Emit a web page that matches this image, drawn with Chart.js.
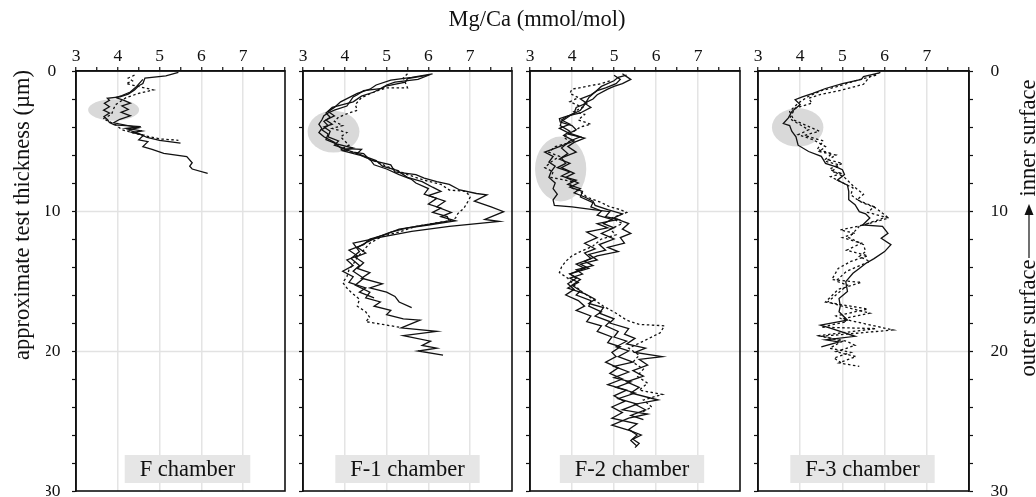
<!DOCTYPE html>
<html>
<head>
<meta charset="utf-8">
<script src="https://cdn.jsdelivr.net/npm/chart.js@4.4.1/dist/chart.umd.min.js"></script>
<style>
html, body { margin: 0; padding: 0; background: #fff; }
#wrap { position: relative; width: 1036px; height: 497px; overflow: hidden; }
#wrap canvas { position: absolute; left: 0; top: 0; }
</style>
</head>
<body>
<div id="wrap">
  <canvas id="c0" width="1036" height="497"></canvas>
  <canvas id="c1" width="1036" height="497"></canvas>
  <canvas id="c2" width="1036" height="497"></canvas>
  <canvas id="c3" width="1036" height="497"></canvas>
</div>
<script>
// --- data: [Mg/Ca, depth] pairs ---
const mgTicks = [3, 4, 5, 6, 7];
const depthLabels = [0, 10, 20, 30];
const chamberNames = ['F chamber', 'F-1 chamber', 'F-2 chamber', 'F-3 chamber'];

// grey low-Mg bands: [Mg/Ca centre, depth centre, Mg/Ca radius, depth radius]
const F_band = [3.9, 2.78, 0.61, 0.77];
const F1_band = [3.73, 4.33, 0.62, 1.49];
const F2_band = [3.73, 7.0, 0.61, 2.32];
const F3_band = [3.94, 4.03, 0.61, 1.37];

const F_solid1 = [[5.45,0.1],[5.15,0.35],[4.65,0.5],[4.6,0.9],[4.5,1.05],[4.4,1.35],[4.25,1.65],[4.05,1.85],[3.75,1.95],[3.8,2.1],[3.68,2.3],[3.8,2.55],[3.66,2.8],[3.8,3.0],[3.67,3.25],[3.76,3.5],[3.8,3.68],[3.92,3.85],[4.55,3.98],[4.2,4.1],[4.58,4.28],[4.35,4.4],[4.62,4.58],[4.5,4.92],[4.72,5.05],[4.6,5.4],[4.82,5.6],[5.1,5.88],[5.65,6.12],[5.78,6.55],[5.72,6.8],[5.78,7.0],[6.15,7.32]];
const F_solid2 = [[4.6,0.6],[4.45,1.1],[4.3,1.5],[4.1,1.75],[3.95,1.9],[4.15,2.1],[4.3,2.3],[4.1,2.5],[4.25,2.75],[4.08,2.95],[4.3,3.2],[4.05,3.45],[3.9,3.7],[4.5,4.05],[4.25,4.2],[4.45,4.4],[4.7,4.75],[5.0,4.95],[5.5,5.15]];
const F_dot1 = [[4.4,0.3],[4.25,0.5],[4.35,0.7],[4.2,0.9],[4.85,1.35],[4.5,1.6],[4.2,1.9],[3.95,2.4],[3.9,2.7],[3.85,3.1],[3.65,3.4],[3.95,3.85],[4.1,4.2],[4.6,4.6],[5.0,4.85],[5.45,4.95]];

const F1_solid1 = [[6.05,0.25],[5.75,0.6],[5.2,0.8],[5.0,1.0],[4.9,1.25],[4.45,1.4],[4.3,1.7],[4.2,1.85],[4.05,2.5],[3.75,2.8],[3.6,3.0],[3.5,3.2],[3.45,3.5],[3.38,3.8],[3.45,4.1],[3.38,4.4],[3.5,4.7],[3.75,5.1],[3.9,5.5],[4.2,5.8],[4.45,5.9],[4.6,6.35],[5.1,6.7],[5.2,7.2],[5.7,7.4],[5.9,7.65],[6.2,7.9],[6.5,8.1],[6.75,8.5],[7.15,8.75],[7.4,8.85],[7.1,9.3],[7.5,9.7],[7.8,10.05],[7.35,10.6],[7.7,10.75],[6.5,11.1],[5.6,11.45],[4.9,11.85],[4.2,12.3],[4.35,12.9],[4.15,13.4],[4.35,13.9],[4.2,14.3],[4.45,14.8],[4.25,15.3],[4.6,15.8],[4.5,16.2],[4.85,16.5],[4.7,16.8],[5.1,17.1],[5.0,17.4],[5.4,17.7],[5.8,17.8],[5.35,18.35],[6.2,18.6],[5.4,18.9],[6.05,19.3],[5.85,19.6],[6.2,19.8],[5.75,20.0],[6.35,20.3]];
const F1_solid2 = [[6.0,0.3],[5.5,0.55],[5.45,0.8],[4.95,1.1],[4.7,1.5],[4.4,1.8],[4.2,2.2],[3.95,2.4],[3.7,2.6],[3.55,3.0],[3.65,3.3],[3.5,3.6],[3.6,3.9],[3.45,4.2],[3.6,4.5],[3.55,4.9],[3.8,5.2],[4.2,5.5],[3.95,5.7],[4.35,6.0],[4.6,6.3],[4.7,6.7],[5.0,7.0],[5.3,7.4],[5.6,7.75],[5.7,8.0],[6.0,8.4],[5.9,8.8],[6.2,9.1],[6.0,9.5],[6.3,9.8],[6.1,10.1],[6.45,10.4],[6.5,10.7],[6.1,10.9],[5.5,11.2],[5.1,11.5],[4.75,11.9],[4.55,12.2],[4.3,12.6],[4.5,13.0],[4.25,13.3],[4.45,13.7],[4.3,14.1],[4.6,14.4],[4.4,14.8],[4.9,15.2],[4.6,15.5],[5.0,15.8],[5.2,16.1],[5.3,16.5],[5.6,16.9]];
const F1_solid3 = [[6.1,0.2],[5.6,0.45],[5.1,0.65],[4.75,1.0],[4.6,1.3],[4.3,1.6],[3.9,2.2],[3.75,2.6],[3.6,2.9],[3.75,3.2],[3.55,3.5],[3.7,3.8],[3.5,4.0],[3.65,4.3],[3.6,4.7],[3.85,5.0],[3.75,5.3],[4.0,5.55],[4.4,5.6],[4.3,5.9],[4.75,6.4],[4.9,6.8],[5.25,7.1],[5.5,7.6],[5.85,7.9],[6.1,8.3],[6.3,8.6],[6.0,8.9],[6.4,9.3],[6.2,9.7],[6.55,10.1],[6.3,10.4],[6.65,10.7],[6.0,11.0],[5.3,11.3],[4.95,11.7],[4.6,12.0],[4.45,12.4],[4.1,12.8],[4.3,13.2],[4.05,13.5],[4.2,13.9],[3.95,14.3],[4.2,14.7],[4.1,15.1],[4.5,15.5],[4.35,15.8],[4.7,16.2]];
const F1_dot1 = [[5.5,0.2],[5.4,0.5],[5.5,1.2],[5.0,1.2],[4.7,1.5],[4.4,1.9],[4.25,2.4],[4.3,2.8],[4.1,3.0],[3.85,3.3],[3.75,3.6],[3.95,3.9],[3.7,4.1],[4.05,4.4],[3.9,4.7],[4.0,5.0],[4.1,5.3],[3.9,5.6],[4.3,5.9],[4.6,6.3],[5.0,6.8],[5.5,7.4],[5.9,7.8],[6.3,8.1],[6.5,8.5],[6.9,8.6],[7.0,9.0],[6.95,9.3],[6.85,9.8],[6.7,10.2],[6.65,10.5],[6.5,10.7],[5.7,11.1],[5.3,11.5],[4.9,11.8],[4.6,12.3],[4.45,12.8],[4.3,13.3],[4.2,13.8],[4.1,14.2],[4.05,14.7],[3.95,15.1],[4.05,15.5],[4.15,15.8],[4.35,16.3],[4.3,16.8],[4.5,17.2],[4.6,17.6],[4.5,17.9],[4.9,18.1],[5.3,18.3]];

const F2_solid1 = [[5.3,0.3],[5.1,0.45],[5.0,0.7],[4.7,1.1],[4.55,1.5],[4.4,1.9],[4.3,2.4],[4.2,2.8],[3.95,3.2],[3.75,3.6],[3.72,3.9],[3.95,4.3],[3.8,4.6],[4.05,5.0],[3.7,5.4],[3.35,5.8],[3.55,6.1],[3.45,6.5],[3.6,6.8],[3.5,7.2],[3.45,7.6],[3.6,8.0],[3.55,8.4],[3.65,8.8],[3.55,9.2],[3.58,9.6],[4.0,9.7],[4.5,9.9],[4.9,10.05],[4.8,10.4],[5.1,10.6],[4.6,10.9],[4.85,11.2],[4.35,11.5],[4.6,11.9],[4.3,12.3],[4.55,12.7],[4.3,13.0],[4.45,13.4],[4.1,13.8],[4.3,14.1],[3.95,14.5],[4.1,14.8],[3.9,15.2],[4.05,15.6],[3.85,16.0],[4.15,16.4],[4.3,16.8],[4.1,17.1],[4.45,17.5],[4.35,17.9],[4.7,18.2],[4.6,18.6],[4.95,19.0],[4.85,19.4],[5.15,19.7],[4.95,20.1],[5.05,20.4],[4.8,20.8],[5.1,21.2],[4.9,21.6],[5.2,22.0],[4.85,22.4],[5.3,22.8],[5.0,23.2],[5.25,23.6],[4.95,24.0],[5.2,24.4],[4.95,24.8],[5.55,25.2],[5.35,25.6],[5.55,26.0],[5.4,26.4],[5.55,26.8]];
const F2_solid2 = [[5.2,0.2],[5.3,0.4],[5.4,0.6],[5.2,0.9],[5.0,1.1],[4.85,1.3],[4.6,1.7],[4.5,2.0],[4.3,2.3],[4.45,2.6],[4.2,3.0],[3.9,3.2],[3.7,3.4],[3.72,3.65],[4.0,3.9],[4.1,4.2],[3.9,4.5],[4.3,4.8],[4.05,5.1],[3.9,5.4],[4.1,5.8],[3.75,6.2],[3.85,6.6],[3.65,6.9],[3.95,7.2],[3.75,7.5],[4.1,7.8],[3.9,8.1],[4.2,8.4],[4.05,8.7],[4.3,9.0],[4.5,9.3],[4.55,9.6],[4.85,9.9],[5.2,10.2],[5.0,10.5],[5.35,10.9],[5.2,11.3],[5.4,11.6],[5.15,11.9],[5.25,12.3],[4.85,12.6],[5.1,12.9],[4.6,13.2],[4.3,13.6],[4.5,13.9],[4.1,14.2],[4.25,14.5],[3.95,14.8],[4.15,15.1],[3.9,15.5],[4.3,15.9],[4.55,16.3],[4.4,16.6],[4.75,16.9],[4.65,17.3],[5.0,17.7],[4.9,18.0],[5.35,18.4],[5.25,18.8],[5.5,19.1],[5.3,19.5],[5.75,19.8],[5.5,20.1],[6.15,20.4],[5.6,20.6],[5.8,21.0],[5.45,21.4],[5.7,21.8],[5.3,22.2],[5.6,22.6],[5.4,23.0],[6.05,23.5],[5.5,23.8],[5.75,24.2],[5.4,24.6],[5.7,24.9]];
const F2_solid3 = [[5.0,0.3],[5.15,0.6],[5.05,0.9],[4.8,1.2],[4.6,1.4],[4.45,1.7],[4.2,2.0],[4.35,2.3],[4.1,2.6],[4.05,3.0],[3.85,3.3],[3.75,3.5],[3.95,3.8],[3.7,4.1],[3.9,4.4],[4.2,4.7],[3.95,5.0],[3.75,5.5],[3.9,5.9],[3.7,6.3],[3.95,6.6],[3.75,6.9],[4.05,7.3],[3.85,7.6],[4.15,8.0],[3.95,8.3],[4.25,8.6],[4.2,9.0],[4.5,9.4],[4.45,9.7],[4.7,10.0],[4.6,10.3],[4.95,10.6],[4.75,10.9],[5.0,11.2],[4.7,11.6],[5.0,12.0],[4.65,12.4],[4.8,12.8],[4.4,13.1],[4.6,13.5],[4.2,13.8],[4.4,14.1],[3.95,14.5],[4.2,14.9],[4.0,15.3],[4.2,15.7],[4.1,16.0],[4.45,16.4],[4.4,16.8],[4.7,17.2],[4.55,17.5],[4.9,17.9],[4.8,18.2],[5.1,18.6],[5.0,19.0],[5.3,19.3],[5.05,19.7],[5.35,20.0],[5.1,20.4],[5.45,20.8],[5.0,21.1],[5.35,21.5],[5.0,21.9],[5.4,22.2],[5.05,22.6],[5.5,23.0],[5.1,23.4],[5.55,23.8],[5.2,24.2],[5.8,24.5],[5.35,24.8],[4.95,25.3],[5.4,25.7],[5.65,26.0],[5.45,26.3],[5.6,26.6],[5.5,26.9]];
const F2_dot1 = [[4.9,0.7],[4.7,0.9],[4.35,1.1],[4.0,1.3],[3.95,1.6],[4.15,1.9],[3.95,2.2],[4.25,2.6],[4.05,2.9],[4.3,3.1],[4.15,3.5],[4.45,3.8],[4.2,4.0],[4.0,4.4],[3.8,4.7],[3.95,5.1],[3.6,5.4],[3.45,5.8],[3.7,6.1],[3.5,6.5],[3.35,6.9],[3.55,7.2],[3.5,7.6],[4.0,7.9],[3.95,8.3],[4.2,8.6],[4.35,9.0],[4.7,9.4],[4.9,9.7],[5.15,9.9],[5.3,10.1],[4.95,10.5],[5.2,10.9],[4.9,11.3],[5.05,11.7],[4.7,12.0],[4.5,12.5],[4.2,12.9],[4.0,13.2],[3.85,13.6],[3.75,14.0],[3.7,14.4],[3.9,14.8],[4.05,15.3],[4.25,15.8],[4.5,16.3],[4.75,16.8],[5.05,17.3],[5.3,17.8],[5.6,18.1],[6.2,18.2],[6.1,18.7],[5.7,19.3],[5.35,19.8],[5.6,20.3],[5.45,20.8],[5.7,21.3],[5.55,21.8],[5.8,22.3],[5.6,22.8],[6.15,23.1],[5.7,23.5],[5.9,24.0],[5.65,24.4]];

const F3_solid1 = [[5.85,0.15],[5.5,0.4],[5.45,0.6],[5.0,0.9],[4.6,1.25],[4.3,1.6],[4.05,1.85],[3.88,2.05],[4.0,2.4],[3.8,2.9],[3.72,3.35],[3.6,3.75],[3.75,3.9],[3.8,4.3],[3.9,4.7],[3.95,5.3],[4.2,5.75],[4.5,6.1],[4.6,6.6],[4.85,6.85],[5.0,7.05],[5.05,7.4],[4.88,7.8],[5.12,8.15],[5.15,8.6],[5.15,9.2],[5.3,9.55],[5.4,10.05],[5.55,10.2],[5.65,10.5],[5.48,11.0],[5.95,11.1],[6.08,11.6],[5.92,11.95],[6.15,12.4],[6.0,12.9],[5.75,13.4],[5.55,13.75],[5.4,14.1],[5.25,14.45],[5.08,15.05],[5.12,15.75],[4.92,16.25],[4.95,16.8],[4.92,17.2],[5.12,17.8],[4.48,18.15],[4.75,18.4],[5.3,18.95],[4.6,19.2],[4.92,19.35],[4.5,19.7]];
const F3_dot1 = [[5.9,0.1],[5.65,0.4],[5.5,0.95],[5.0,1.35],[4.45,1.7],[4.2,1.95],[4.28,2.3],[3.88,2.65],[3.8,3.1],[3.75,3.4],[4.2,4.2],[3.95,4.55],[4.3,4.9],[4.6,5.4],[4.45,5.75],[4.85,6.0],[4.6,6.45],[4.92,6.7],[4.75,7.2],[5.0,7.3],[4.72,7.55],[5.25,8.35],[5.2,8.85],[5.4,9.3],[5.8,9.8],[6.05,10.4],[5.88,10.6],[5.4,11.1],[5.15,11.9],[5.5,12.4],[5.55,12.9],[5.4,13.25],[5.65,13.6],[5.1,14.3],[4.85,15.0],[5.12,15.3],[4.65,16.5],[5.0,16.8],[5.65,17.3],[5.0,17.7],[6.2,18.5],[4.5,18.95],[5.1,19.3],[5.3,19.6],[4.85,20.05],[5.32,20.4],[4.92,20.85],[5.4,21.1]];
const F3_dot2 = [[5.8,0.3],[5.3,0.7],[4.9,1.1],[4.5,1.4],[4.2,1.8],[3.95,2.3],[3.75,2.9],[3.85,3.5],[4.45,4.3],[4.1,4.6],[4.55,5.0],[4.4,5.6],[4.75,5.9],[4.6,6.3],[5.0,6.6],[4.7,7.0],[5.05,7.6],[5.25,8.2],[5.5,8.8],[5.35,9.2],[5.75,9.7],[5.6,10.1],[6.1,10.5],[5.5,11.0],[4.95,11.35],[5.3,11.6],[5.0,11.9],[5.45,12.3],[5.1,12.8],[5.6,13.2],[5.2,13.6],[4.9,14.1],[4.75,14.9],[5.45,15.1],[4.9,15.6],[4.6,16.5],[5.6,17.0],[4.85,17.5],[5.1,17.9],[4.5,18.3],[5.8,18.4],[4.45,18.9],[5.0,19.3],[4.7,19.8],[5.2,20.1],[4.8,20.5],[5.0,20.9]];

// --- layout ---
const W = 1036, H = 497;
const panelLeft = [76, 303, 530, 758];
const panelRight = [285, 512, 740, 969];
const plotTop = 71, plotBottom = 491;
const SERIF = "'Liberation Serif', 'Times New Roman', serif";
const INK = '#111';

const deco = {
  id: 'deco',
  beforeDatasetsDraw(chart, args, o) {
    const { ctx, chartArea: a, scales: { x, y } } = chart;
    if (o.wideGrid) {
      ctx.save();
      ctx.strokeStyle = '#e2e2e2';
      ctx.lineWidth = 1.5;
      [10, 20].forEach(v => {
        const py = Math.round(y.getPixelForValue(v)) + 0.5;
        ctx.beginPath();
        ctx.moveTo(a.left, py);
        ctx.lineTo(panelRight[3] + 4, py);
        ctx.stroke();
      });
      ctx.restore();
    }
    if (o.band) {
      const [cx, cy, rx, ry] = o.band;
      const px = x.getPixelForValue(cx), py = y.getPixelForValue(cy);
      const prx = Math.abs(x.getPixelForValue(cx + rx) - px);
      const pry = Math.abs(y.getPixelForValue(cy + ry) - py);
      ctx.save();
      ctx.fillStyle = '#d9d9d9';
      ctx.beginPath();
      ctx.ellipse(px, py, prx, pry, 0, 0, Math.PI * 2);
      ctx.fill();
      ctx.restore();
    }
  },
  afterDraw(chart, args, o) {
    const { ctx, chartArea: a } = chart;
    ctx.save();
    // frame
    ctx.strokeStyle = INK;
    ctx.lineWidth = 1.6;
    ctx.strokeRect(a.left, a.top, a.right - a.left, a.bottom - a.top);
    // chamber label
    ctx.font = '22.5px ' + SERIF;
    const tw = ctx.measureText(o.label).width;
    const cx = (a.left + a.right) / 2 + (o.labelShift || 0);
    ctx.fillStyle = '#e6e6e6';
    ctx.fillRect(cx - tw / 2 - 15, 455, tw + 30, 28);
    ctx.fillStyle = INK;
    ctx.textAlign = 'center';
    ctx.textBaseline = 'alphabetic';
    ctx.fillText(o.label, cx, 476);

    if (o.page) {
      ctx.font = '22.5px ' + SERIF;
      ctx.fillText('Mg/Ca (mmol/mol)', 537, 26);

      ctx.save();
      ctx.translate(29, 215);
      ctx.rotate(-Math.PI / 2);
      ctx.fillText('approximate test thickness (\u00b5m)', 0, 0);
      ctx.restore();

      ctx.save();
      ctx.translate(1035, 0);
      ctx.rotate(-Math.PI / 2);
      ctx.textAlign = 'center';
      ctx.fillText('outer surface', -318, 0);
      ctx.fillText('inner surface', -138, 0);
      ctx.restore();

      // arrow pointing up to the inner surface
      ctx.strokeStyle = INK;
      ctx.lineWidth = 1.2;
      ctx.beginPath();
      ctx.moveTo(1029, 258);
      ctx.lineTo(1029, 212);
      ctx.stroke();
      ctx.beginPath();
      ctx.moveTo(1029, 204);
      ctx.lineTo(1024.5, 215);
      ctx.lineTo(1033.5, 215);
      ctx.closePath();
      ctx.fill();
    }
    ctx.restore();
  }
};

const toXY = pairs => pairs.map(([mg, d]) => ({ x: mg, y: d }));

function line(pairs, dotted) {
  return {
    data: toXY(pairs),
    showLine: true,
    borderColor: INK,
    borderWidth: 1.3,
    borderDash: dotted ? [2.5, 2.5] : [],
    pointRadius: 0,
    tension: 0,
    fill: false
  };
}

// fixed box sizes and no label overflow padding, so every plot lands on the same rectangle
const fixX = s => { s.height = 30; s.paddingLeft = 0; s.paddingRight = 0; };
const fixY = w => s => { s.width = w; s.paddingTop = 0; s.paddingBottom = 0; };

function makePanel(i, band, series, labelShift) {
  const first = i === 0, last = i === 3;
  const tickFont = { family: SERIF, size: 17.5 };
  const scales = {
    x: {
      type: 'linear', position: 'top', min: 3, max: 8,
      afterFit: fixX,
      ticks: {
        stepSize: 0.5, autoSkip: false, maxRotation: 0, padding: 0,
        color: INK, font: tickFont,
        callback: v => mgTicks.includes(v) ? String(v) : ''
      },
      grid: {
        color: c => (c.tick && mgTicks.includes(c.tick.value) && c.tick.value > 3) ? '#e4e4e4' : 'rgba(0,0,0,0)',
        lineWidth: 1.5,
        tickColor: INK, tickLength: 4, tickWidth: 1.2
      },
      border: { color: INK, width: 1.6 }
    },
    y: {
      type: 'linear', position: 'left', reverse: true, min: 0, max: 30,
      afterFit: fixY(30),
      ticks: {
        stepSize: 2, autoSkip: false, padding: 11.5, crossAlign: 'center',
        color: INK, font: tickFont,
        callback: v => (first && depthLabels.includes(v)) ? String(v) : ''
      },
      grid: { color: 'rgba(0,0,0,0)', tickColor: INK, tickLength: 4, tickWidth: 1.2 },
      border: { color: INK, width: 1.6 }
    }
  };
  if (last) {
    scales.y2 = {
      type: 'linear', position: 'right', reverse: true, min: 0, max: 30,
      afterFit: fixY(40),
      ticks: {
        stepSize: 2, autoSkip: false, padding: 17.5,
        color: INK, font: tickFont,
        callback: v => depthLabels.includes(v) ? String(v) : ''
      },
      grid: { drawOnChartArea: false, tickColor: INK, tickLength: 4, tickWidth: 1.2 },
      border: { color: INK, width: 1.6 }
    };
  }
  return new Chart(document.getElementById('c' + i), {
    type: 'scatter',
    data: { datasets: series },
    options: {
      responsive: false,
      animation: false,
      devicePixelRatio: 1,
      layout: {
        padding: {
          left: panelLeft[i] - 30,
          right: W - panelRight[i] - (last ? 40 : 0),
          top: plotTop - 30,
          bottom: H - plotBottom
        }
      },
      scales,
      plugins: {
        legend: { display: false },
        tooltip: { enabled: false },
        deco: { label: chamberNames[i], band, page: first, wideGrid: first, labelShift }
      }
    },
    plugins: [deco]
  });
}

makePanel(0, F_band, [line(F_solid1), line(F_solid2), line(F_dot1, true)], 7);
makePanel(1, F1_band, [line(F1_solid1), line(F1_solid2), line(F1_solid3), line(F1_dot1, true)], 0);
makePanel(2, F2_band, [line(F2_solid1), line(F2_solid2), line(F2_solid3), line(F2_dot1, true)], -3);
makePanel(3, F3_band, [line(F3_solid1), line(F3_dot1, true), line(F3_dot2, true)], -1);
</script>
</body>
</html>
